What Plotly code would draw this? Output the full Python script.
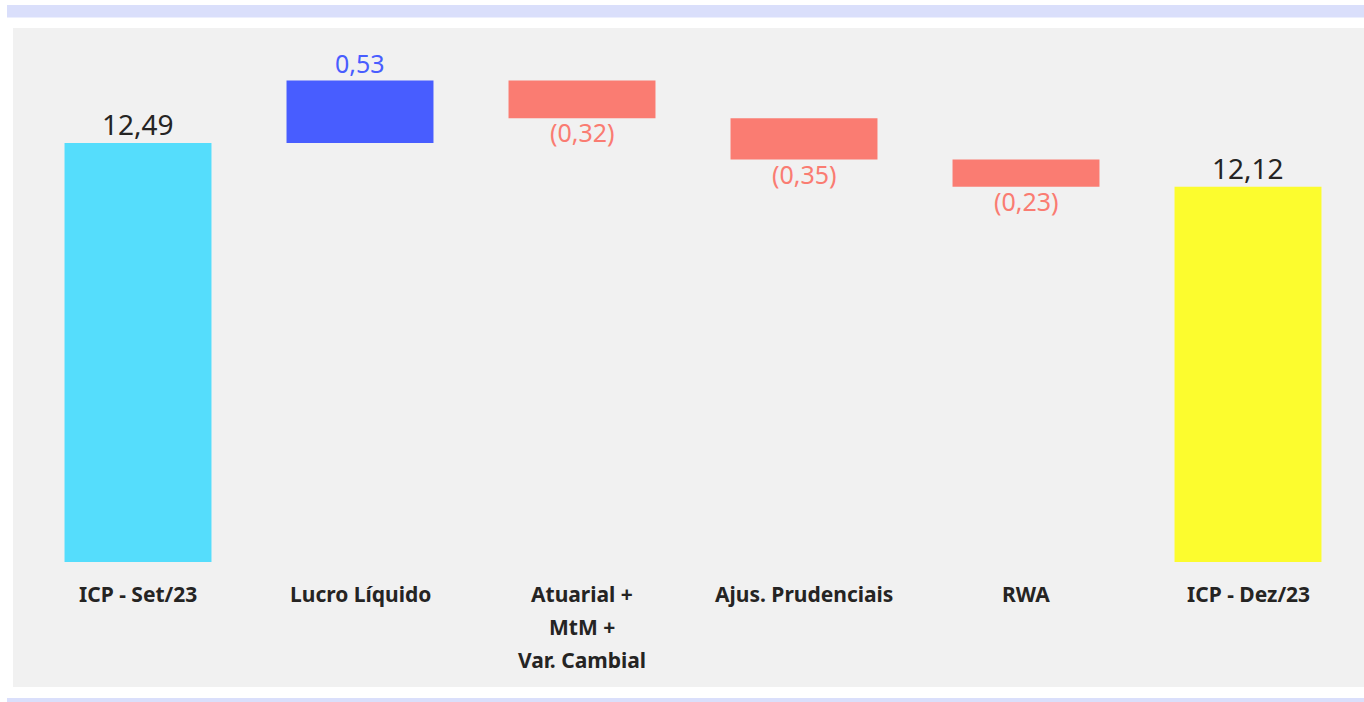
import plotly.graph_objects as go

# Capital index bridge (ICP), values in %
categories = ["ICP - Set/23", "Lucro Líquido", "Atuarial +\nMtM +\nVar. Cambial",
              "Ajus. Prudenciais", "RWA", "ICP - Dez/23"]
start_total = 12.49
deltas = [0.53, -0.32, -0.35, -0.23]
end_total = 12.12

value_labels = ["12,49", "0,53", "(0,32)", "(0,35)", "(0,23)", "12,12"]

C_START = "#55DDFC"
C_UP = "#485DFF"
C_DOWN = "#FA7C72"
C_END = "#FCFC2E"
C_TEXT = "#252423"

# Build bar bases: totals sit on zero, deltas float on the running total
ys, bases, colors, text_colors = [start_total], [0], [C_START], [C_TEXT]
running = start_total
for d in deltas:
    ys.append(d)
    bases.append(running)
    colors.append(C_UP if d >= 0 else C_DOWN)
    text_colors.append(C_UP if d >= 0 else C_DOWN)
    running += d
ys.append(end_total)
bases.append(0)
colors.append(C_END)
text_colors.append(C_TEXT)

x_idx = list(range(len(categories)))
text_sizes = [28] + [25] * len(deltas) + [28]

fig = go.Figure()
fig.add_trace(go.Bar(
    x=x_idx, y=ys, base=bases, width=0.662,
    marker=dict(color=colors, line=dict(width=0)),
    hoverinfo="skip",
))

annotations = []
# Value labels: above the end of rising/total bars, below falling ones
for i, (y, b) in enumerate(zip(ys, bases)):
    end = b + y
    up = y >= 0
    annotations.append(dict(
        x=i, xref="x", y=end, yref="y",
        yanchor="bottom" if up else "top",
        yshift=-2 if up else 5,
        showarrow=False, text=value_labels[i],
        font=dict(family="Noto Sans", size=text_sizes[i], color=text_colors[i]),
    ))

# Category labels, one annotation per line for a wider line spacing
for i, cat in enumerate(categories):
    for j, line in enumerate(cat.split("\n")):
        annotations.append(dict(
            x=i, xref="x", y=0, yref="paper", yanchor="middle",
            yshift=-32 - 33 * j, showarrow=False, text=line,
            font=dict(family="Noto Sans", size=21, color=C_TEXT, weight=700),
        ))

shapes = [
    # light panel behind the chart
    dict(type="rect", xref="paper", yref="paper", layer="below",
         x0=(13 - 27) / 1332, x1=(1364 - 27) / 1332,
         y0=(562 - 687) / 522, y1=(562 - 28) / 522,
         fillcolor="#F1F1F1", line=dict(width=0)),
    # top and bottom accent bands
    dict(type="rect", xref="paper", yref="paper", layer="below",
         x0=(7 - 27) / 1332, x1=(1364 - 27) / 1332,
         y0=(562 - 17.5) / 522, y1=(562 - 5) / 522,
         fillcolor="#DADFFB", line=dict(width=0)),
    dict(type="rect", xref="paper", yref="paper", layer="below",
         x0=(7 - 27) / 1332, x1=(1364 - 27) / 1332,
         y0=(562 - 702) / 522, y1=(562 - 698) / 522,
         fillcolor="#DADFFB", line=dict(width=0)),
]

fig.update_layout(
    width=1364, height=702,
    margin=dict(l=27, r=5, t=40, b=140),
    paper_bgcolor="white", plot_bgcolor="rgba(0,0,0,0)",
    showlegend=False,
    xaxis=dict(range=[-0.5, 5.5], showticklabels=False, showgrid=False,
               zeroline=False, showline=False, fixedrange=True),
    yaxis=dict(range=[8.94, 13.363], visible=False, fixedrange=True),
    annotations=annotations, shapes=shapes,
)

fig.write_html("out.html", config={"displayModeBar": False})
